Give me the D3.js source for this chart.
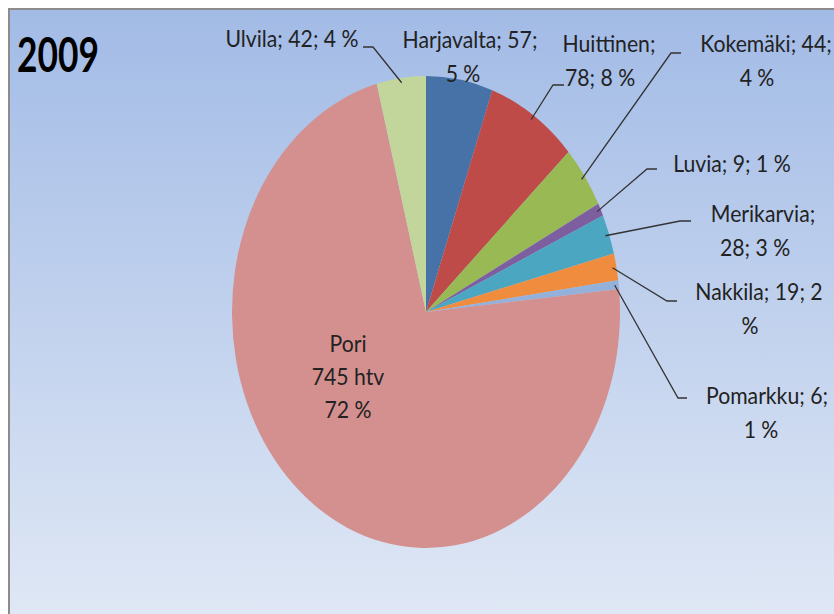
<!DOCTYPE html>
<html>
<head>
<meta charset="utf-8">
<script src="https://cdn.jsdelivr.net/npm/d3@7"></script>
<style>
  html, body { margin: 0; padding: 0; background: #fff; }
  svg { display: block; }
  .lbl { font-family: Lato, "Liberation Sans", sans-serif; font-size: 24px; fill: #222; }
  .title { font-family: Lato, "Liberation Sans", sans-serif; font-size: 47px; font-weight: bold; fill: #000; }
</style>
</head>
<body>
<div id="chart"></div>
<script>
var width = 834,
    height = 614;

// data
var names   = ["Harjavalta", "Huittinen", "Kokemäki", "Luvia", "Merikarvia", "Nakkila", "Pomarkku", "Pori", "Ulvila"];
var values  = [57, 78, 44, 9, 28, 19, 6, 745, 42];
var percent = [5, 8, 4, 1, 3, 2, 1, 72, 4];
var colors  = ["#4672a8", "#be4b48", "#98b954", "#7d5fa0", "#4aa6c1", "#f08c3e", "#93b1db", "#d4908f", "#c2d69c"];
var title = "2009";

// label placement (manual, like excel's dragged labels)
// wrap = how many words go on each line, xs = centre of each line, y = first baseline
var layout = [
  {wrap: [2, 2], xs: [470, 463], y: 48},
  {wrap: [1, 3], xs: [609, 600], y: 52, line: [[553, 85], [564, 85]]},
  {wrap: [2, 2], xs: [766, 757], y: 52, line: [[671, 53], [681, 53]]},
  {wrap: [4],    xs: [732],      y: 172, line: [[647, 169], [657, 169]]},
  {wrap: [1, 3], xs: [763, 755], y: 222, line: [[680, 221], [691, 221]]},
  {wrap: [3, 1], xs: [759, 750], y: 300, line: [[667, 301], [677, 301]]},
  {wrap: [2, 2], xs: [767, 761], y: 404, line: [[678, 398], [687, 398]]},
  {inside: true, xs: [348, 348, 348], y: 352},
  {wrap: [4],    xs: [292],      y: 47, line: [[373, 47], [363, 47]]}
];

var cx = 426, cy = 312,
    r = 194,
    sy = 236 / 194,   // picture is stretched vertically
    lineGap = 34;

var svg = d3.select("#chart").append("svg")
  .attr("width", width)
  .attr("height", height);

var defs = svg.append("defs");
var grad = defs.append("linearGradient")
  .attr("id", "bg")
  .attr("x1", 0).attr("y1", 0).attr("x2", 0).attr("y2", 1);
grad.append("stop").attr("offset", "0%").attr("stop-color", "#a2bbe6");
grad.append("stop").attr("offset", "100%").attr("stop-color", "#e0e8f5");

// plot area with grey border on top / left
svg.append("rect")
  .attr("x", 9).attr("y", 9)
  .attr("width", width).attr("height", height)
  .attr("fill", "url(#bg)")
  .attr("stroke", "#8c8c8c")
  .attr("stroke-width", 2);

// no calibri here, so squeeze the font to the width calibri had
var probe = svg.append("text").attr("class", "lbl").text("Harjavalta; 57;");
var sx = 135 / probe.node().getComputedTextLength();
probe.remove();

var tt = svg.append("text")
  .attr("class", "title")
  .text(title);
var tsx = 82 / tt.node().getComputedTextLength();
tt.attr("transform", "translate(17,72) scale(" + tsx + ",1)");

var data = names.map(function(n, i) {
  return {name: n, value: values[i], pct: percent[i], color: colors[i], lay: layout[i]};
});

var pie = d3.pie()
  .sort(null)
  .value(function(d) { return d.value; });

var arc = d3.arc()
  .innerRadius(0)
  .outerRadius(r);

var edgeArc = d3.arc()
  .innerRadius(r - 4)
  .outerRadius(r - 4);

var arcs = pie(data);

var g = svg.append("g")
  .attr("transform", "translate(" + cx + "," + cy + ") scale(1," + sy + ")");

g.selectAll("path")
  .data(arcs).enter()
  .append("path")
  .attr("d", arc)
  .attr("fill", function(d) { return d.data.color; });

// leader lines
arcs.forEach(function(d) {
  var L = d.data.lay;
  if (!L.line) return;
  var c = edgeArc.centroid(d);
  var p0 = [cx + c[0], cy + c[1] * sy];
  var pts = [p0].concat(L.line);
  svg.append("path")
    .attr("d", d3.line()(pts))
    .attr("fill", "none")
    .attr("stroke", "#333")
    .attr("stroke-width", 1.3);
});

// labels
arcs.forEach(function(d) {
  var L = d.data.lay, lines;
  if (L.inside) {
    lines = [d.data.name, d.data.value + " htv", d.data.pct + " %"];
  } else {
    var words = [d.data.name + ";", d.data.value + ";", String(d.data.pct), "%"];
    lines = [];
    var k = 0;
    L.wrap.forEach(function(n) {
      lines.push(words.slice(k, k + n).join(" "));
      k += n;
    });
  }
  lines.forEach(function(t, i) {
    var y = L.y + i * (L.inside ? 33 : lineGap);
    svg.append("text")
      .attr("class", "lbl")
      .attr("text-anchor", "middle")
      .attr("transform", "translate(" + L.xs[i] + "," + y + ") scale(" + sx + ",1)")
      .text(t);
  });
});
</script>
</body>
</html>
